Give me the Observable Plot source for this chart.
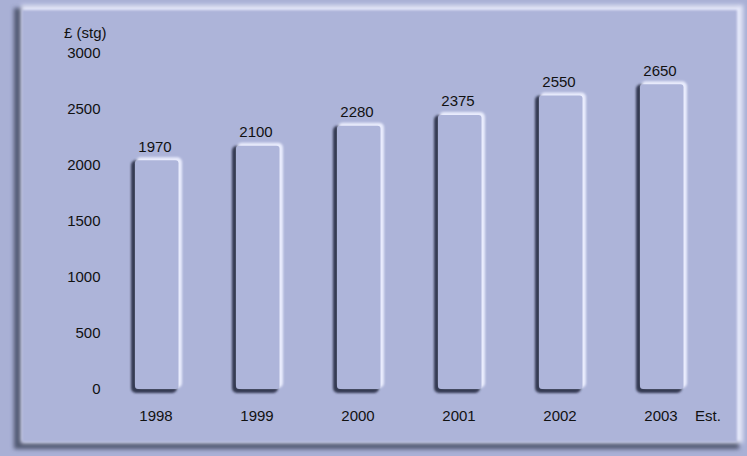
<!DOCTYPE html>
<html>
<head>
<meta charset="utf-8">
<script src="https://cdn.jsdelivr.net/npm/d3@7"></script>
<script src="https://cdn.jsdelivr.net/npm/@observablehq/plot@0.6"></script>
<style>
  html, body { margin: 0; padding: 0; background: #a9b0d5; }
  #chart svg { display: block; background: transparent; }
</style>
</head>
<body>
<div id="chart"></div>
<script>
const years = ["1998", "1999", "2000", "2001", "2002", "2003"];
const values = [1970, 2100, 2280, 2375, 2550, 2650];
const yTicks = [0, 500, 1000, 1500, 2000, 2500, 3000];
const unitLabel = "£ (stg)";
const estLabel = "Est.";

const data = years.map((y, i) => ({year: y, value: values[i]}));
const font = "'Liberation Sans Narrow', 'Liberation Sans', Arial, sans-serif";
const fs = 15;

const plot = Plot.plot({
  width: 747,
  height: 456,
  marginTop: 53,
  marginBottom: 67,
  marginLeft: 80,
  marginRight: 9,
  style: {background: "transparent", fontFamily: font},
  x: {domain: years, padding: 0.5, axis: null},
  y: {domain: [0, 3000], axis: null},
  marks: [
    // shadow (left/bottom)
    Plot.barY(data, {x: "year", y: "value", fill: "#353a52", rx: 5,
      insetLeft: 0, insetRight: 5, insetTop: -8, insetBottom: -4}),
    // highlight (right/top)
    Plot.barY(data, {x: "year", y: "value", fill: "#e9ecfd", rx: 5,
      insetLeft: 5, insetRight: 0, insetTop: -11, insetBottom: 1}),
    // face
    Plot.barY(data, {x: "year", y: "value", fill: "#aeb5da", rx: 3,
      insetLeft: 4, insetRight: 3.5, insetTop: -8, insetBottom: 0}),
    Plot.text(data, {x: "year", y: "value", text: d => String(d.value),
      dy: -22, dx: -2, fontSize: fs, fill: "#111"}),
    Plot.text(years, {x: d => d, text: d => d, frameAnchor: "bottom", lineAnchor: "middle",
      dy: 27, dx: -1, fontSize: fs, fill: "#111"}),
    Plot.text(yTicks, {y: d => d, text: d => String(d), frameAnchor: "left",
      dx: 20, textAnchor: "end", fontSize: fs, fill: "#111"}),
    Plot.text([unitLabel], {text: d => d, frameAnchor: "top-left", lineAnchor: "middle",
      dx: 26, dy: -20, textAnchor: "end", fontSize: fs, fill: "#111"}),
    Plot.text([{year: "2003", t: estLabel}], {x: "year", text: "t", frameAnchor: "bottom", lineAnchor: "middle",
      dx: 46, dy: 27, fontSize: fs, fill: "#111"})
  ]
});

document.getElementById("chart").appendChild(plot);

// decorative embossed panel & soft filters
const svg = d3.select(plot);
const defs = svg.insert("defs", ":first-child");
[["blur2", 2.0], ["blur1", 1.2], ["blur08", 0.8], ["blur05", 0.6]].forEach(([id, s]) => {
  defs.append("filter").attr("id", id)
    .attr("x", "-10%").attr("y", "-10%").attr("width", "120%").attr("height", "120%")
    .append("feGaussianBlur").attr("stdDeviation", s);
});
const panel = svg.insert("g", "defs + *");
panel.append("rect").attr("x", 14).attr("y", 8).attr("width", 725).attr("height", 441)
  .attr("fill", "#50566f").attr("filter", "url(#blur2)");
panel.append("rect").attr("x", 21).attr("y", 5).attr("width", 722).attr("height", 438)
  .attr("fill", "#e6e9fb").attr("filter", "url(#blur2)");
panel.append("rect").attr("x", 22).attr("y", 10).attr("width", 715).attr("height", 432)
  .attr("fill", "#adb4d9").attr("filter", "url(#blur1)");

const bars = svg.selectAll("g[aria-label='bar']").nodes();
if (bars[0]) bars[0].setAttribute("filter", "url(#blur08)");
if (bars[1]) bars[1].setAttribute("filter", "url(#blur1)");
if (bars[2]) bars[2].setAttribute("filter", "url(#blur05)");
</script>
</body>
</html>
